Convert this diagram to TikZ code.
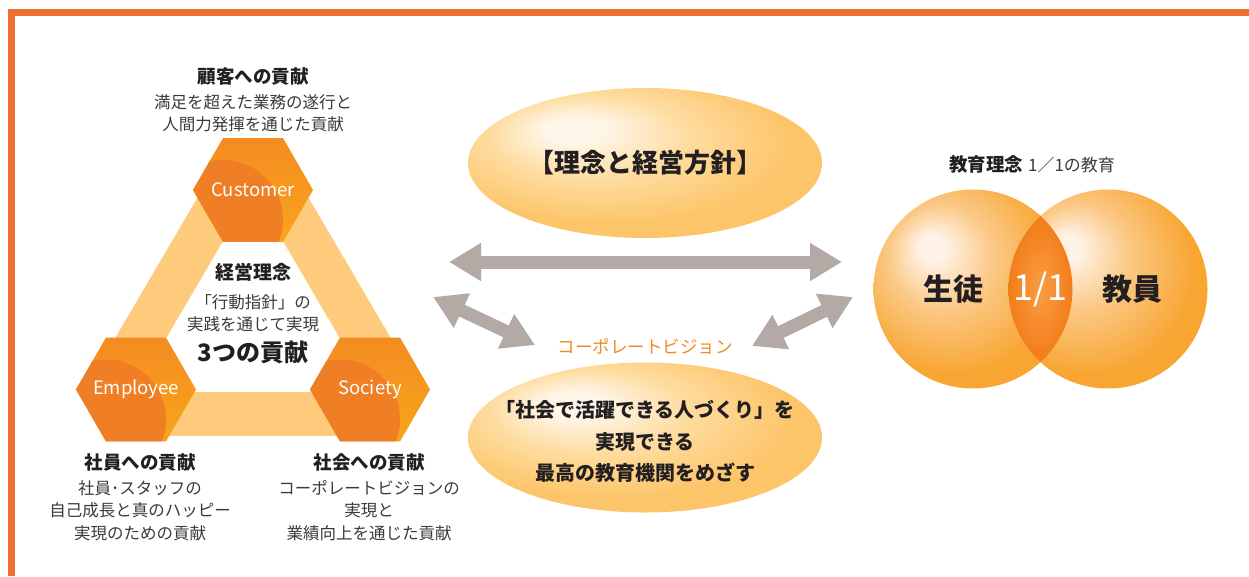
\documentclass[tikz,border=0pt]{standalone}
\usepackage{fontspec}
\setmainfont{Noto Sans CJK JP}
\usepackage{tikz}
\usetikzlibrary{shapes.geometric,arrows.meta,positioning,calc}
\pgfdeclarelayer{background}
\pgfsetlayers{background,main}

\definecolor{framecol}{HTML}{F07032}
\definecolor{bandcol}{HTML}{FDCB7B}
\definecolor{hexdark}{HTML}{EF7E25}
\definecolor{hexmid}{HTML}{F48C21}
\definecolor{hexlight}{HTML}{F8A51B}
\definecolor{arrowgrey}{HTML}{B3A9A5}
\definecolor{textdark}{HTML}{231F20}
\definecolor{textgrey}{HTML}{3A3A3A}
\definecolor{visioncol}{HTML}{F08A26}
\definecolor{ovalhi}{HTML}{FFF6EA}
\definecolor{ovalmid}{HTML}{FEDC9F}
\definecolor{ovaledge}{HTML}{FDC56A}
\definecolor{vennhi}{HTML}{FFF3E8}
\definecolor{vennmid}{HTML}{FBC987}
\definecolor{vennedge}{HTML}{F8A531}
\definecolor{lensin}{HTML}{F99D43}
\definecolor{lensout}{HTML}{F27A17}

\pgfdeclareradialshading{ovalglow}{\pgfpoint{-11bp}{12bp}}{color(0bp)=(ovalhi); color(4bp)=(ovalhi); color(14bp)=(ovalmid); color(26bp)=(ovaledge); color(50bp)=(ovaledge)}
\pgfdeclareradialshading{vennglow}{\pgfpoint{-11bp}{11bp}}{color(0bp)=(vennhi); color(3bp)=(vennhi); color(13bp)=(vennmid); color(27bp)=(vennedge); color(50bp)=(vennedge)}

\begin{document}
\begin{tikzpicture}[
            x=1pt, y=-1pt,
            every node/.style={inner sep=0pt},
            >={Triangle[length=32pt,width=36pt]},
            hexa/.style={regular polygon, regular polygon sides=6, minimum size=120pt,
                top color=hexmid, bottom color=hexlight,
                path picture={\fill[hexdark] (path picture bounding box.center) ++(-30,30) circle (60pt);}},
            hexlbl/.style={text=white, font=\fontsize{18.5}{22}\selectfont},
            band/.style={draw=bandcol, line width=44pt},
            oval/.style={ellipse, minimum width=354pt, minimum height=150pt, shading=ovalglow},
            venn/.style={circle, minimum size=199pt, shading=vennglow},
            title/.style={text=textdark, font=\fontsize{18.5}{22}\selectfont\bfseries},
            desc/.style={text=textgrey, align=center, font=\fontsize{16.5}{22.5}\selectfont},
            ovaltxt/.style={text=textdark, align=center, font=\fontsize{20}{31.5}\selectfont\bfseries},
            venntxt/.style={text=textdark, font=\fontsize{30}{34}\selectfont\bfseries},
            dblarrow/.style={<->, draw=arrowgrey, line width=13pt}
        ]
        \useasboundingbox (0,0) rectangle (1249,576);

        % Draw hexagons %
        \node[hexa, label={[hexlbl]center:Customer}] (cust) at (253,190) {};
        \node[hexa, label={[hexlbl]center:Employee}] (empl) at (136,389.5) {};
        \node[hexa, label={[hexlbl]center:Society}] (soc) at (370,389.5) {};

        % Draw contributions %
        \node[title] (kokyaku) at (253,76) {顧客への貢献};
        \node[desc, below=9pt of kokyaku] (kokyakutxt) {満足を超えた業務の遂行と\\人間力発揮を通じた貢献};
        \node[title] (shain) at (140,462) {社員への貢献};
        \node[desc, below=9pt of shain] (shaintxt) {社員･スタッフの\\自己成長と真のハッピー\\実現のための貢献};
        \node[title] (shakai) at (369,462) {社会への貢献};
        \node[desc, below=9pt of shakai] (shakaitxt) {コーポレートビジョンの\\実現と\\業績向上を通じた貢献};

        % Draw centre text %
        \node[title, font=\fontsize{19}{22}\selectfont\bfseries] (keiei) at (253,272) {経営理念};
        \node[desc, below=13pt of keiei] (koudou) {「行動指針」の\\実践を通じて実現};
        \node[title, font=\fontsize{24}{28}\selectfont\bfseries, below=8pt of koudou] (mittsu) {3つの貢献};

        % Draw ovals %
        \node[oval, ovaltxt, font=\fontsize{26}{30}\selectfont\bfseries] (houshin) at (645,163) {【理念と経営方針】};
        \node[oval] (vision) at (645,437.5) {};
        \node[ovaltxt] (visiontxt) at ([yshift=-4pt]vision.center) {「社会で活躍できる人づくり」を\\実現できる\\最高の教育機関をめざす};
        \node[text=visioncol, font=\fontsize{17.5}{20}\selectfont, above=8pt of vision] (cvlabel) {コーポレートビジョン};

        % Draw arrows %
        \coordinate (hleft) at (449,262);
        \coordinate (hright) at (842,262);
        \coordinate (lup) at (433,297);
        \coordinate (ldown) at (535,345);
        \coordinate (rup) at (853,297);
        \coordinate (rdown) at (752,346);
        \draw[dblarrow] (hleft) -- (hright);
        \draw[dblarrow] (lup) -- (ldown);
        \draw[dblarrow] (rup) -- (rdown);

        % Draw circles %
        \node[venn] (seito) at (973,289) {};
        \node[venn] (kyouin) at (1108,289) {};
        \begin{scope}
            \clip (seito.center) circle (99.5pt);
            \clip (kyouin.center) circle (99.5pt);
            \shade[inner color=lensin, outer color=lensout] ($(seito)!0.5!(kyouin)$) ellipse (34pt and 76pt);
        \end{scope}
        \node[venntxt] (seitotxt) at ([xshift=-20pt]seito.center) {生徒};
        \node[venntxt] (kyouintxt) at ([xshift=24pt]kyouin.center) {教員};
        \node[text=white, font=\fontsize{36}{40}\selectfont] (ittai) at ($(seito)!0.5!(kyouin)$) {1/1};
        \node[font=\fontsize{17}{20}\selectfont, text=textgrey] (kyouiku) at (1032,165) {{\color{textdark}\fontsize{18.5}{20}\selectfont\bfseries 教育理念}\hspace{5pt}1／1の教育};

        % Draw background %
        \begin{pgfonlayer}{background}
            \fill[framecol] (8,9) rectangle (1249,16);
            \fill[framecol] (8,9) rectangle (15,576);
            \draw[band] ($(cust)!22pt!-90:(empl)$) -- ($(empl)!22pt!90:(cust)$);
            \draw[band] ($(empl)!24pt!-90:(soc)$) -- ($(soc)!24pt!90:(empl)$);
            \draw[band] ($(soc)!22pt!-90:(cust)$) -- ($(cust)!22pt!90:(soc)$);
        \end{pgfonlayer}
        \end{tikzpicture}
\end{document}
